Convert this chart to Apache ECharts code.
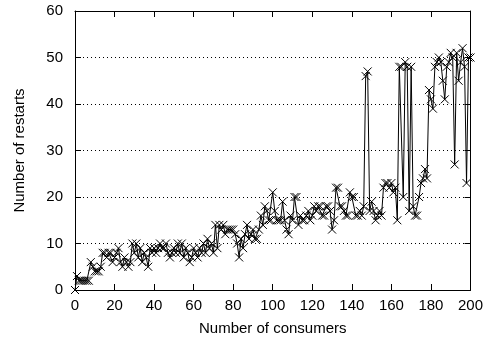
<!DOCTYPE html>
<html>
<head>
<meta charset="utf-8">
<script src="https://cdn.jsdelivr.net/npm/echarts@6/dist/echarts.min.js"></script>
<style>
  html, body { margin: 0; padding: 0; background: #fff; }
  #main { width: 486px; height: 341px; }
</style>
</head>
<body>
<div id="main"></div>
<script>
// number of restarts for each number of consumers (0..200)
var restarts = [
  0, 3, 2, 2, 2, 2, 2, 2, 6, 5,
  4, 4, 4, 5, 8, 8, 7, 8, 8, 6,
  7, 8, 9, 6, 5, 7, 6, 5, 6, 10,
  8, 10, 7, 9, 6, 8, 7, 5, 9, 8,
  9, 8, 9, 10, 9, 9, 10, 8, 7, 8,
  9, 8, 10, 8, 10, 7, 9, 8, 6, 7,
  9, 8, 7, 9, 8, 10, 8, 11, 9, 10,
  8, 14, 9, 14, 13, 14, 12, 13, 13, 13,
  13, 12, 10, 7, 11, 9, 12, 14, 11, 12,
  13, 11, 11, 13, 16, 14, 18, 17, 15, 15,
  21, 17, 15, 15, 15, 19, 15, 13, 12, 16,
  15, 20, 20, 14, 16, 15, 15, 16, 17, 15,
  16, 18, 17, 18, 18, 16, 16, 18, 18, 17,
  13, 15, 22, 22, 18, 18, 17, 16, 16, 21,
  20, 20, 16, 16, 17, 16, 18, 46, 47, 17,
  19, 17, 15, 16, 17, 16, 22, 23, 23, 22,
  23, 21, 22, 15, 48, 48, 20, 49, 48, 17,
  48, 18, 16, 16, 20, 23, 24, 26, 24, 43,
  41, 39, 48, 49, 50, 49, 45, 41, 48, 49,
  51, 50, 27, 51, 45, 49, 52, 48, 23, 50,
  50
];
var consumers = restarts.map(function (v, i) { return i; });
var xTicks = [0, 20, 40, 60, 80, 100, 120, 140, 160, 180, 200];
var yTicks = [0, 10, 20, 30, 40, 50, 60];

var points = consumers.map(function (c, i) { return [c, restarts[i]]; });

var chart = echarts.init(document.getElementById('main'), null, { renderer: 'canvas' });
var font = 'Liberation Sans';
var axisLine = { show: true, onZero: false, lineStyle: { color: '#000', width: 1 } };
var tick = { inside: true, length: 6, lineStyle: { color: '#000' } };

var option = {
  animation: false,
  backgroundColor: '#fff',
  textStyle: { fontFamily: font },
  grid: { left: 75, right: 12, top: 11, bottom: 50, show: false },
  xAxis: [{
    type: 'value',
    min: xTicks[0],
    max: xTicks[xTicks.length - 1],
    interval: 20,
    name: 'Number of consumers',
    nameLocation: 'middle',
    nameGap: 31,
    nameTextStyle: { fontFamily: font, fontSize: 15, color: '#000' },
    axisLine: axisLine,
    axisTick: tick,
    axisLabel: { fontFamily: font, fontSize: 15, color: '#000', margin: 8 },
    splitLine: { show: false }
  }, {
    type: 'value',
    position: 'top',
    min: xTicks[0],
    max: xTicks[xTicks.length - 1],
    interval: 20,
    axisLine: axisLine,
    axisTick: tick,
    axisLabel: { show: false },
    splitLine: { show: false }
  }],
  yAxis: [{
    type: 'value',
    min: yTicks[0],
    max: yTicks[yTicks.length - 1],
    interval: 10,
    name: 'Number of restarts',
    nameLocation: 'middle',
    nameGap: 48,
    nameTextStyle: { fontFamily: font, fontSize: 15, color: '#000' },
    axisLine: axisLine,
    axisTick: tick,
    axisLabel: { fontFamily: font, fontSize: 15, color: '#000', margin: 12 },
    splitLine: { show: true, lineStyle: { color: '#000', type: [1, 3], width: 1 } }
  }, {
    type: 'value',
    position: 'right',
    min: yTicks[0],
    max: yTicks[yTicks.length - 1],
    interval: 10,
    axisLine: axisLine,
    axisTick: tick,
    axisLabel: { show: false },
    splitLine: { show: false }
  }],
  series: [{
    type: 'line',
    data: points,
    xAxisIndex: 0,
    yAxisIndex: 0,
    symbol: 'path://M0,0L10,10M10,0L0,10',
    symbolSize: 8,
    showAllSymbol: true,
    lineStyle: { color: '#000', width: 1 },
    itemStyle: { color: 'none', borderColor: '#000', borderWidth: 1 },
    clip: false
  }]
};

chart.setOption(option);
</script>
</body>
</html>
